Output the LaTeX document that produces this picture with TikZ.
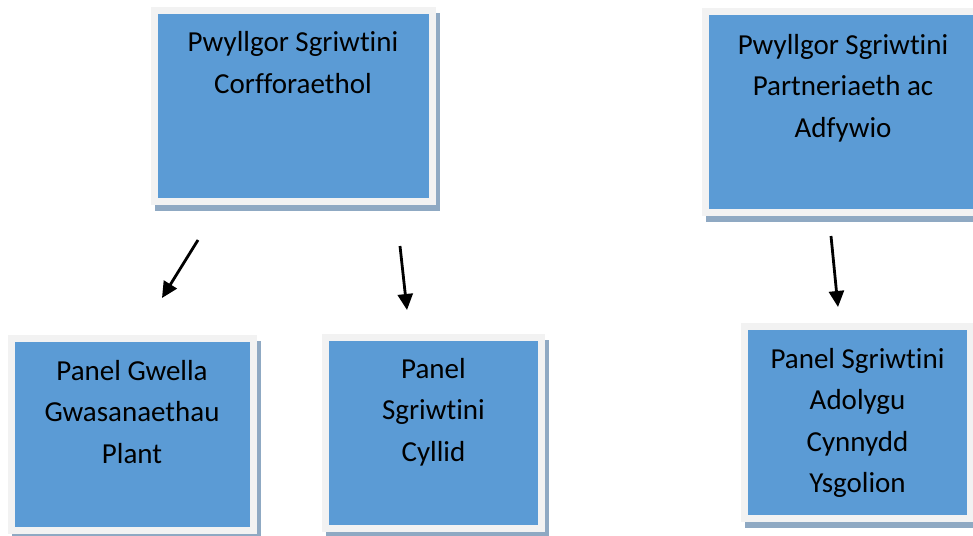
\documentclass[tikz,border=0pt]{standalone}
\usepackage{fontspec}
\setmainfont{Carlito}[Ligatures={NoCommon,NoContextual,NoRequired}, Contextuals={NoAlternate}]
\usepackage{xcolor}
\usetikzlibrary{shadows,arrows.meta}
\definecolor{panelblue}{HTML}{5B9BD5}
\definecolor{framegray}{HTML}{F2F2F2}
\definecolor{shadowblue}{HTML}{8FA9C3}

\begin{document}
\begin{tikzpicture}[%
        x=1pt, y=-1pt,
        panel/.style={ anchor=north west, inner sep=0pt, outer sep=0pt, align=flush center, line width=7pt, draw=framegray, fill=panelblue, text height=41.5pt, font=\fontsize{29}{41.5}\selectfont, general shadow={shadow xshift=4pt, shadow yshift=-6pt, fill=shadowblue, draw=shadowblue, line width=7pt} },%
        link/.style={ line width=2.8pt, -{Triangle[length=16pt,width=15pt]} }%
      ]
      \useasboundingbox [fill=white] (0,0) rectangle (973,535);
      \node (corff) at (154, 10.5) [panel, text width=278pt, text depth=149.5pt]{Pwyllgor Sgriwtini\\Corfforaethol};
      \node (partner) at (705.5, 12) [panel, text width=275pt, text depth=158.5pt, text height=42pt]{Pwyllgor Sgriwtini\\Partneriaeth ac\\Adfywio};
      \node (plant) at (11, 338.5) [panel, text width=242pt, text depth=150.5pt]{Panel Gwella\\Gwasanaethau\\Plant};
      \node (cyllid) at (325.5, 337) [panel, text width=216pt, text depth=150pt, text height=41pt]{Panel\\Sgriwtini\\Cyllid};
      \node (ysgol) at (744.5, 326.5) [panel, text width=226pt, text depth=150pt]{Panel Sgriwtini\\Adolygu\\Cynnydd\\Ysgolion};
      \coordinate (a1) at (198, 240);
      \coordinate (b1) at (162, 298);
      \coordinate (a2) at (400, 246);
      \coordinate (b2) at (407, 310);
      \coordinate (a3) at (831, 236);
      \coordinate (b3) at (838, 307);
      \draw [link] (a1) -- (b1);
      \draw [link] (a2) -- (b2);
      \draw [link] (a3) -- (b3);
    \end{tikzpicture}
\end{document}
